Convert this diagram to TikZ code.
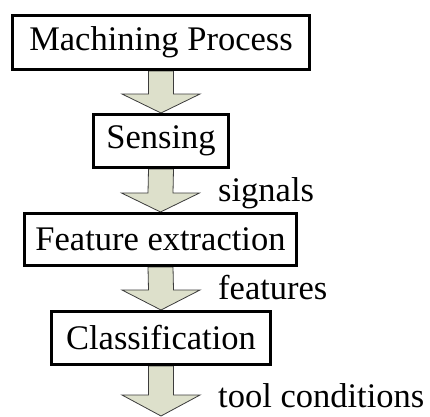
\documentclass[tikz,border=0pt]{standalone}
\usepackage{fontspec}
\setmainfont{Liberation Serif}
\usetikzlibrary{calc}
\pgfdeclarelayer{background}
\pgfsetlayers{background,main}
\definecolor{arrowfill}{RGB}{221,224,203}
\definecolor{arrowline}{RGB}{60,60,60}
\tikzset{
  x=1pt,y=1pt,
  box/.style={draw=black,line width=3pt,fill=white,inner sep=0pt,font=\fontsize{34.5}{40}\selectfont},
  lbl/.style={anchor=base west,inner sep=0pt,font=\fontsize{34.5}{40}\selectfont},
  arr/.style={fill=arrowfill,draw=arrowline,line width=0.8pt,line join=miter}
}
\newcommand{\flowarr}[3]{%
  \draw[arr] ($(#1)+(-12.5,0)$) -- ($(#2)+(-12.5,#3)$) -- ($(#2)+(-39,#3)$) -- (#2)
    -- ($(#2)+(39,#3)$) -- ($(#2)+(12.5,#3)$) -- ($(#1)+(12.5,0)$) -- cycle;}
\begin{document}
\begin{tikzpicture}
\useasboundingbox (0,0) rectangle (430,416);
\node[box,minimum width=297,minimum height=54] (mp) at (161,373.5) {Machining Process};
\node[box,minimum width=135,minimum height=53] (se) at (161,275) {Sensing};
\node[box,minimum width=272,minimum height=52] (fe) at (160.5,176.5) {Feature extraction};
\node[box,minimum width=219,minimum height=53] (cl) at (161,78) {Classification};
\coordinate (end) at (161,0);
\node[lbl] (l1) at (218,215) {signals};
\node[lbl] (l2) at (218,117) {features};
\node[lbl] (l3) at (218,9) {tool conditions};
\begin{pgfonlayer}{background}
\flowarr{mp.south}{se.north}{19}
\flowarr{se.south}{fe.north}{19}
\flowarr{fe.south}{cl.north}{20}
\flowarr{cl.south}{end}{21}
\end{pgfonlayer}
\end{tikzpicture}
\end{document}
